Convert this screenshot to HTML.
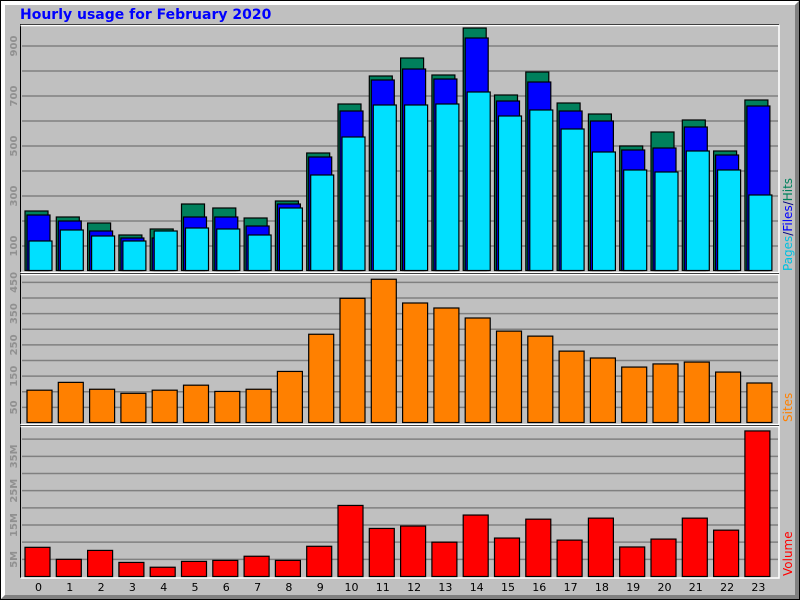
<!DOCTYPE html>
<html><head><meta charset="utf-8"><style>
html,body{margin:0;padding:0;background:#c0c0c0;}
svg{display:block;font-family:"DejaVu Sans","Liberation Sans",sans-serif;}
</style></head><body>
<svg id="c" width="800" height="600" viewBox="0 0 800 600">
<rect x="0" y="0" width="800" height="600" fill="#c0c0c0"/>
<polygon points="0,0 800,0 795,5 5,5 5,595 0,600" fill="#ffffff"/>
<polygon points="800,0 800,600 0,600 5,595 795,595 795,5" fill="#808080"/>
<rect x="0.5" y="0.5" width="799" height="599" fill="none" stroke="#000"/>
<text x="20" y="19" font-size="14" font-weight="bold" fill="#0000ff">Hourly usage for February 2020</text>
<g id="g"></g>
</svg>
<script>
const hours=["0","1","2","3","4","5","6","7","8","9","10","11","12","13","14","15","16","17","18","19","20","21","22","23"];
const hits=[240,216,192,144,168,268,252,212,280,472,668,780,852,784,972,704,796,672,628,500,556,604,480,684];
const files=[224,200,160,132,132,216,216,180,268,456,640,764,808,768,932,680,756,640,600,484,492,576,464,660];
const pages=[120,164,140,120,160,172,168,144,252,384,536,664,664,668,716,620,644,568,476,404,396,480,404,304];
const sites=[105,130,108,95,105,121,101,108,165,284,399,460,384,368,336,294,278,230,208,179,189,195,163,128];
const volume=[8.5,5.0,7.6,4.1,2.7,4.4,4.7,5.9,4.7,8.8,20.7,14.0,14.7,10.0,17.9,11.2,16.7,10.6,17.0,8.6,10.9,17.0,13.5,42.4];
const topTicks=["100","300","500","700","900"];
const siteTicks=["50","150","250","350","450"];
const volTicks=["5M","15M","25M","35M"];

const NS="http://www.w3.org/2000/svg";
const g=document.getElementById('g');
function el(t,a,p){const e=document.createElementNS(NS,t);for(const k in a)e.setAttribute(k,a[k]);(p||g).appendChild(e);return e;}
const X0=25,PITCH=31.3;
function bx(i){return X0+i*PITCH;}
// panels
function panel(name,x1,y1,x2,y2){
  const p=el('rect',{x:x1,y:y1,width:x2-x1,height:y2-y1,fill:'#c0c0c0',stroke:'none'});
  
  
  const l1=el('polyline',{points:`${x1},${y2} ${x1},${y1} ${x2},${y1}`,fill:'none',stroke:'#000','stroke-width':1});
  
  
  const l2=el('polyline',{points:`${x1},${y1+1} ${x2},${y1+1} ${x2},${y2} ${x1},${y2}`,fill:'none',stroke:'#fff','stroke-width':1.5});
  
  
}
panel('usage-panel',20.5,24.5,779,272.5);
panel('sites-panel',20.5,273.5,779,424.5);
panel('volume-panel',20.5,425.5,779,578);

// scales
const yTop=v=>271-v*0.25;
const ySite=v=>423-v*0.3125;
const yVol=v=>576.5-v*3.433;
function grid(y,name){const l=el('line',{x1:22,x2:778,y1:y,y2:y,stroke:'#808080','stroke-width':1.5});
  
  }
for(let v=100;v<=900;v+=100)grid(yTop(v),'usage-gridline');
for(let v=50;v<=450;v+=50)grid(ySite(v),'sites-gridline');
for(let v=5;v<=40;v+=5)grid(yVol(v),'volume-gridline');
function ylab(txt,y,name){const t=el('text',{x:0,y:0,'font-size':10,'font-weight':'bold',fill:'#909090','text-anchor':'middle',transform:`translate(17,${y}) rotate(-90)`});
  t.textContent=txt;
  
  }
topTicks.forEach(s=>ylab(s,yTop(+s),'usage-y-tick'));
siteTicks.forEach(s=>ylab(s,ySite(+s),'sites-y-tick'));
volTicks.forEach(s=>ylab(s,yVol(parseFloat(s)),'volume-y-tick'));

function bar(x,w,y,base,fill,name){
  const r=el('rect',{x:x,y:y,width:w,height:Math.max(0,base-y),fill:fill,stroke:'#000','stroke-width':1.2});
  
  
}
hours.forEach((h,i)=>{
  const x=bx(i);
  bar(x,23,yTop(hits[i]),270.5,'#00805c','hits-bar-'+h);
  bar(x+2,23,yTop(files[i]),270.5,'#0000ff','files-bar-'+h);
  bar(x+4,23,yTop(pages[i]),270.5,'#00e0ff','pages-bar-'+h);
  bar(x+2,25,ySite(sites[i]),422.5,'#ff8000','sites-bar-'+h);
  bar(x,25,yVol(volume[i]),576.5,'#ff0000','volume-bar-'+h);
  const t=el('text',{x:x+13.5,y:591,'font-size':11,fill:'#000','text-anchor':'middle'});
  t.textContent=h;
  
  
});
// side labels
function side(parts,y,name){
  const t=el('text',{x:0,y:0,'font-size':12,'text-anchor':'start',transform:`translate(792,${y}) rotate(-90)`});
  
  
  parts.forEach(p=>{const s=el('tspan',{fill:p[1]},t);s.textContent=p[0];});
}
side([["Pages","#00c0e0"],["/","#000080"],["Files","#0000ff"],["/","#000080"],["Hits","#00805c"]],271,'usage-axis-title');
side([["Sites","#ff8000"]],422,'sites-axis-title');
side([["Volume","#ff0000"]],576,'volume-axis-title');
</script>
</body></html>
